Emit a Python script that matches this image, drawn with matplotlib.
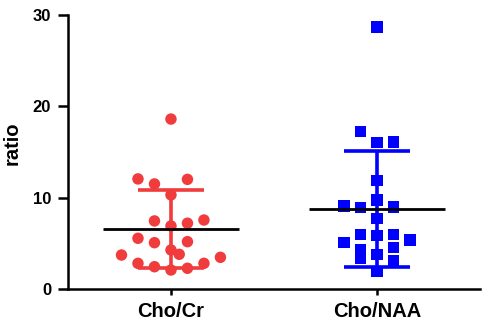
import numpy as np
import matplotlib
matplotlib.use("Agg")
from matplotlib import pyplot as plt

plt.rcParams['font.family'] = ['Liberation Sans', 'DejaVu Sans']

groups = ['Cho/Cr', 'Cho/NAA']

# individual values; x offsets are the scatter columns
cho_cr = [18.6, 12.05, 11.5, 12.0, 10.3, 7.45, 7.55, 7.2, 6.9, 5.55, 5.07, 5.18,
          4.27, 3.8, 3.72, 3.47, 2.81, 2.44, 2.08, 2.27, 2.81]
cho_cr_col = [0, -2, -1, 1, 0, -1, 2, 1, 0, -2, -1, 1, 0, 0.5, -3, 3, -2, -1, 0, 1, 2]

cho_naa = [28.66, 17.23, 16.03, 16.1, 11.86, 9.75, 9.09, 8.9, 9.0, 7.74, 5.12, 5.99,
           5.84, 5.99, 5.37, 4.27, 3.36, 3.8, 4.57, 3.1, 1.9]
cho_naa_col = [0, -1, 0, 1, 0, 0, -2, -1, 1, 0, -2, -1, 0, 1, 2, -1, -1, 0, 1, 1, 0]

red = '#F03C3C'
blue = '#0000FF'

fig = plt.figure(figsize=(4.85, 3.24), dpi=100)
ax = fig.add_axes([0.140, 0.108, 0.850, 0.846])

step = 0.08
for i, (vals, cols, c, m) in enumerate([(cho_cr, cho_cr_col, red, 'o'),
                                        (cho_naa, cho_naa_col, blue, 's')]):
    x0 = i + 1
    vals = np.array(vals)
    mean = vals.mean()
    sd = vals.std(ddof=1)
    ax.errorbar([x0], [mean], yerr=[sd], fmt='none', ecolor=c, elinewidth=2.6,
                capsize=24, capthick=2.6, zorder=2)
    ax.scatter(x0 + np.array(cols) * step, vals, s=68, marker=m, color=c,
               edgecolors='none', zorder=3)
    ax.hlines(mean, x0 - 0.33, x0 + 0.33, color='black', lw=2, zorder=4)

ax.set_xlim(0.5, 2.5)
ax.set_ylim(0, 30)
ax.set_yticks([0, 10, 20, 30])
ax.set_xticks([1, 2])
ax.set_xticklabels(groups)
ax.set_ylabel('ratio', fontsize=14.5, fontweight='bold')
ax.yaxis.set_label_coords(-0.113, 0.53)

for s in ['top', 'right']:
    ax.spines[s].set_visible(False)
for s in ['left', 'bottom']:
    ax.spines[s].set_linewidth(1.8)
ax.tick_params(axis='y', width=1.8, length=7, pad=5, labelsize=12)
ax.tick_params(axis='x', width=1.8, length=4, pad=5, labelsize=14.5)
for lab in ax.get_xticklabels() + ax.get_yticklabels():
    lab.set_fontweight('bold')

fig.savefig('out.png', dpi=100)
